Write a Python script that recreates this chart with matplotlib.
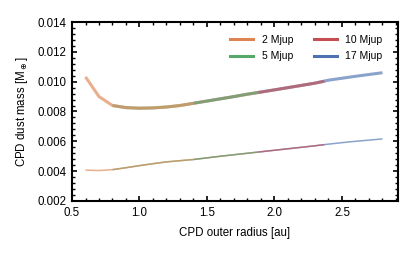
import numpy as np
import matplotlib.pyplot as plt
from matplotlib.ticker import MultipleLocator

plt.rcParams['font.family'] = ['Liberation Sans', 'DejaVu Sans']
plt.rcParams['mathtext.fontset'] = 'dejavusans'

# CPD outer radius [au] and dust masses [M_earth] per planet mass
labels = ['2 Mjup', '5 Mjup', '10 Mjup', '17 Mjup']
colors = ['#DD8452', '#55A868', '#C44E52', '#4C72B0']

r_2 = [0.6, 0.7, 0.8, 0.9, 1.0, 1.1, 1.2, 1.3, 1.4]
m_hi_2 = [0.01032, 0.00900, 0.00840, 0.00826, 0.00822, 0.00824, 0.00830, 0.00840, 0.00855]
m_lo_2 = [0.00407, 0.00404, 0.00410, 0.00423, 0.00437, 0.00450, 0.00462, 0.00470, 0.00478]

r_5 = [0.8, 0.9, 1.0, 1.1, 1.2, 1.3, 1.4, 1.5, 1.6, 1.7, 1.8, 1.88]
m_hi_5 = [0.00840, 0.00826, 0.00822, 0.00824, 0.00830, 0.00840, 0.00855, 0.00870,
          0.00885, 0.00900, 0.00916, 0.00928]
m_lo_5 = [0.00410, 0.00423, 0.00437, 0.00450, 0.00462, 0.00470, 0.00478, 0.00489,
          0.00500, 0.00510, 0.00520, 0.00528]

r_10 = [1.4, 1.5, 1.6, 1.7, 1.8, 1.9, 2.0, 2.1, 2.2, 2.3, 2.37]
m_hi_10 = [0.00855, 0.00870, 0.00885, 0.00900, 0.00916, 0.00930, 0.00945, 0.00960,
           0.00975, 0.00990, 0.01003]
m_lo_10 = [0.00478, 0.00489, 0.00500, 0.00510, 0.00520, 0.00530, 0.00540, 0.00550,
           0.00560, 0.00570, 0.00578]

r_17 = [1.88, 2.0, 2.1, 2.2, 2.3, 2.4, 2.5, 2.6, 2.7, 2.8]
m_hi_17 = [0.00928, 0.00945, 0.00960, 0.00975, 0.00990, 0.01010, 0.01023, 0.01036,
           0.01048, 0.01060]
m_lo_17 = [0.00528, 0.00540, 0.00550, 0.00560, 0.00570, 0.00581, 0.00591, 0.00600,
           0.00608, 0.00616]

radii = [r_2, r_5, r_10, r_17]
m_hi = [m_hi_2, m_hi_5, m_hi_10, m_hi_17]
m_lo = [m_lo_2, m_lo_5, m_lo_10, m_lo_17]

fig = plt.figure(figsize=(4.15, 2.56), dpi=100)
ax = fig.add_axes([0.1735, 0.215, 0.7855, 0.699])

# heaviest planet first so lighter ones sit on top
for i in range(3, -1, -1):
    ax.plot(radii[i], m_hi[i], color=colors[i], lw=2.2, alpha=0.65, solid_capstyle='butt')
    ax.plot(radii[i], m_lo[i], color=colors[i], lw=1.1, alpha=0.65, solid_capstyle='butt')
for c, lab in zip(colors, labels):
    ax.plot([], [], color=c, lw=2.2, label=lab)

ax.set_xlim(0.5, 2.915)
ax.set_ylim(0.002, 0.014)
ax.xaxis.set_major_locator(MultipleLocator(0.5))
ax.xaxis.set_minor_locator(MultipleLocator(0.1))
ax.yaxis.set_major_locator(MultipleLocator(0.002))
ax.yaxis.set_minor_locator(MultipleLocator(0.0004))
ax.yaxis.set_major_formatter(plt.FormatStrFormatter('%.3f'))
ax.xaxis.set_major_formatter(plt.FormatStrFormatter('%.1f'))
ax.tick_params(which='both', direction='in', top=True, right=True, labelsize=8.3, pad=4)
ax.tick_params(which='major', length=3.5, width=1.2)
ax.tick_params(which='minor', length=2, width=1)
for s in ax.spines.values():
    s.set_linewidth(1.5)

ax.set_xlabel('CPD outer radius [au]', fontsize=8.3, labelpad=6)
ax.set_ylabel(r'CPD dust mass [M$_\oplus$]', fontsize=8.3, labelpad=5)

ax.legend(ncol=2, frameon=False, fontsize=7.5, loc='upper right', handlelength=2.2,
          columnspacing=2.0, handletextpad=0.8, labelspacing=0.6,
          bbox_to_anchor=(0.98, 0.98))

fig.savefig('out.png', dpi=100)
